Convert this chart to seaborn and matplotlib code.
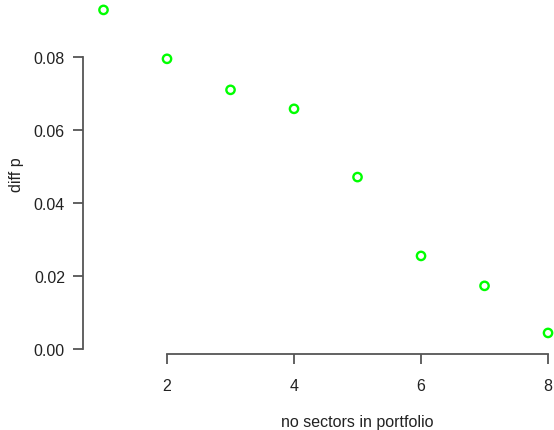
#!/usr/bin/env python3
"""Diff p vs number of sectors in portfolio."""

import matplotlib
matplotlib.use("Agg")
import matplotlib.pyplot as plt
import seaborn as sns

n_sectors = [1, 2, 3, 4, 5, 6, 7, 8]
diff_p = [0.0929, 0.0795, 0.0710, 0.0658, 0.0471, 0.0255, 0.0173, 0.0044]
x_ticks = [2, 4, 6, 8]
y_ticks = [0.00, 0.02, 0.04, 0.06, 0.08]
y_labels = ["0.00", "0.02", "0.04", "0.06", "0.08"]


def main() -> int:
    sns.set_style("white")
    plt.rcParams["font.family"] = ["Liberation Sans", "DejaVu Sans"]

    fig = plt.figure(figsize=(5.54, 4.31), dpi=100)
    ax = fig.add_axes([83 / 554, 76 / 431, 471 / 554, 355 / 431])

    sns.scatterplot(x=n_sectors, y=diff_p, ax=ax, color="#00ff00",
                    edgecolor="#00ff00", linewidth=1.7, s=36, clip_on=False)
    ax.collections[0].set_facecolor("none")

    ax.set_xlim(0.677, 8.094)
    ax.set_ylim(-0.00137, 0.09589)

    for side in ("top", "right"):
        ax.spines[side].set_visible(False)
    ax.spines["left"].set_bounds(0, 0.08)
    ax.spines["bottom"].set_bounds(2, 8)
    for side in ("left", "bottom"):
        ax.spines[side].set_color("#555555")
        ax.spines[side].set_linewidth(1.3)

    ax.set_xticks(x_ticks)
    ax.set_xticklabels([str(t) for t in x_ticks])
    ax.set_yticks(y_ticks)
    ax.set_yticklabels(y_labels)
    ax.tick_params(axis="both", which="major", length=7, width=1.3,
                   color="#555555", labelsize=11.5, labelcolor="#222222",
                   left=True, bottom=True)
    ax.tick_params(axis="x", pad=10)
    ax.tick_params(axis="y", pad=6)

    fig.text(357 / 554, 1 - 423 / 431, "no sectors in portfolio",
             ha="center", va="center", fontsize=11.5, color="#222222")
    fig.text(17 / 554, 1 - 175 / 431, "diff p", rotation=90,
             ha="center", va="center", fontsize=11.5, color="#222222")

    fig.savefig("out.png", dpi=100)
    plt.close(fig)
    return 0


if __name__ == "__main__":
    raise SystemExit(main())
